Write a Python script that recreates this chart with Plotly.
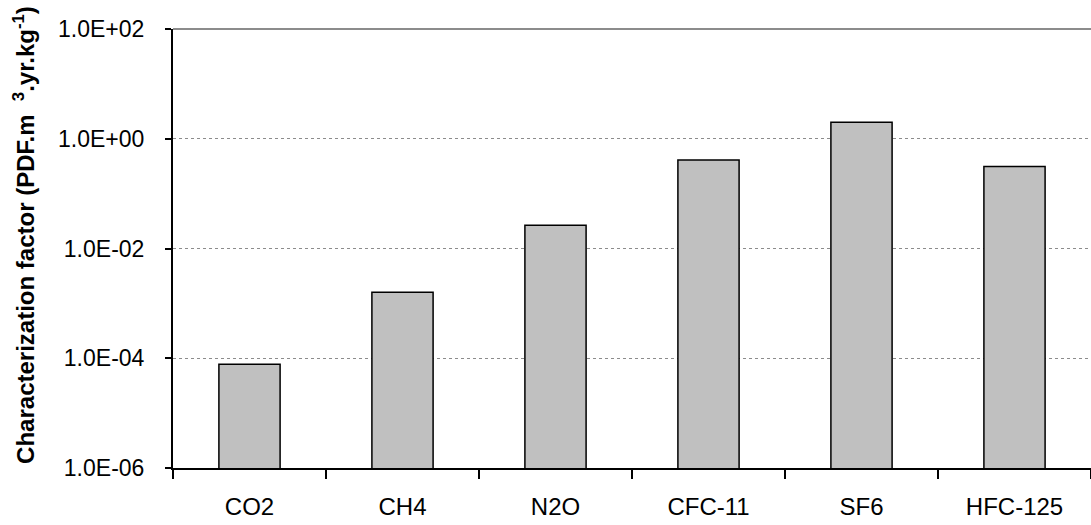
import plotly.graph_objects as go

categories = ["CO2", "CH4", "N2O", "CFC-11", "SF6", "HFC-125"]
values = [7.8e-5, 1.59e-3, 2.65e-2, 0.408, 1.99, 0.312]
tick_vals = [1e-6, 1e-4, 1e-2, 1e0, 1e2]
tick_text = ["1.0E-06", "1.0E-04", "1.0E-02", "1.0E+00", "1.0E+02"]
y_title = "<b>Characterization factor (PDF.m  <sup>3</sup>.yr.kg<sup>-1</sup>)</b>"

fig = go.Figure()
fig.add_trace(go.Bar(
    x=categories, y=values, width=0.4,
    marker=dict(color="#C0C0C0", line=dict(color="black", width=1.5)),
))

fig.update_layout(
    width=1091, height=525,
    margin=dict(l=173, r=0, t=29, b=57, autoexpand=False),
    paper_bgcolor="white", plot_bgcolor="white",
    showlegend=False,
    font=dict(family="Liberation Sans, Arial, sans-serif", size=23, color="black"),
)
fig.update_xaxes(
    type="category", tickson="boundaries", ticks="outside", ticklen=9, tickwidth=1.5,
    tickcolor="black", showline=True, linecolor="black", linewidth=2,
    showgrid=False, ticklabelstandoff=16, tickfont=dict(size=24),
)
fig.update_yaxes(
    type="log", range=[-6, 2], tickvals=tick_vals, ticktext=tick_text,
    ticks="outside", ticklen=6, tickwidth=1.5, tickcolor="black",
    showline=True, linecolor="black", linewidth=2,
    showgrid=True, gridcolor="#8c8c8c", griddash="dot", gridwidth=1,
    ticklabelstandoff=16, tickfont=dict(size=23),
)
fig.add_annotation(text=y_title, textangle=-90, showarrow=False,
                   xref="paper", yref="paper", x=-0.1623, y=0.531,
                   xanchor="center", yanchor="middle", font=dict(size=24))
fig.add_shape(type="line", xref="paper", yref="paper", x0=0, x1=1, y0=1, y1=1,
              line=dict(color="#8c8c8c", width=2), layer="below")

fig.write_html("out.html", config={"displayModeBar": False},
               post_script="document.body.style.margin='0px';")
